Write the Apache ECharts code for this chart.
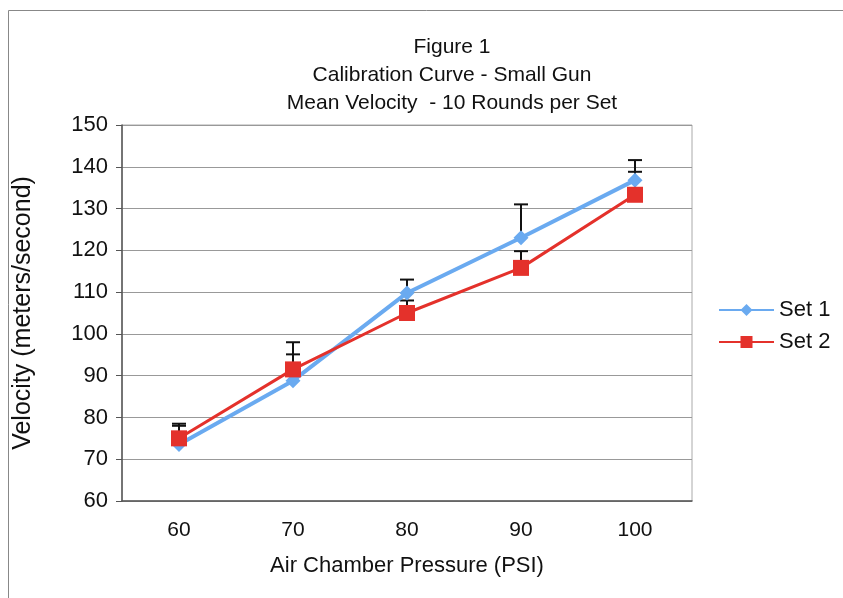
<!DOCTYPE html>
<html lang="en">
<head>
    <meta charset="UTF-8">
    <title>Figure 1</title>
    <style>
        html, body { margin: 0; padding: 0; background: #fff; }
        #main { width: 843px; height: 598px; }
    </style>
</head>
<body>
<div id="main"></div>
<script src="https://cdn.jsdelivr.net/npm/echarts@6/dist/echarts.min.js"></script>
<script>
    var pressures = ['60', '70', '80', '90', '100'];
    var set1 = [73.5, 88.8, 109.8, 123, 136.8];
    var set2 = [75, 91.5, 105, 115.8, 133.3];
    // upward error bar lengths
    var set1Err = [4.5, 6.3, 3.2, 8, 4.8];
    var set2Err = [3.5, 6.5, 3, 4, 5.5];

    var font = '"Liberation Sans", Arial, sans-serif';

    var errorSeries = function (name, values, errs) {
        return {
            type: 'custom',
            name: name + ' err',
            z: 1,
            silent: true,
            renderItem: function (params, api) {
                var idx = api.value(0);
                var base = api.coord([idx, api.value(1)]);
                var top = api.coord([idx, api.value(2)]);
                var style = {stroke: '#111', lineWidth: 2};
                return {
                    type: 'group',
                    children: [
                        {type: 'line', shape: {x1: base[0], y1: base[1], x2: top[0], y2: top[1]}, style: style},
                        {type: 'line', shape: {x1: top[0] - 7, y1: top[1], x2: top[0] + 7, y2: top[1]}, style: style}
                    ]
                };
            },
            encode: {x: 0, y: [1, 2]},
            data: values.map(function (v, i) {
                return [i, v, v + errs[i]];
            })
        };
    };

    var myChart = echarts.init(document.getElementById('main'));
    myChart.setOption({
        backgroundColor: '#fff',
        animation: false,
        title: {
            text: 'Figure 1\nCalibration Curve - Small Gun\nMean Velocity  - 10 Rounds per Set',
            left: 447,
            textAlign: 'center',
            top: 28,
            textStyle: {fontFamily: font, fontSize: 21, fontWeight: 'normal', color: '#111', lineHeight: 28}
        },
        graphic: [{
            type: 'rect',
            shape: {x: 8.5, y: 10.5, width: 900, height: 700},
            style: {fill: 'none', stroke: '#888', lineWidth: 1}
        }],
        legend: {
            orient: 'vertical',
            left: 713,
            top: 294,
            itemWidth: 55,
            itemHeight: 15,
            itemGap: 10,
            data: ['Set 1', 'Set 2'],
            textStyle: {fontFamily: font, fontSize: 22, color: '#111'}
        },
        grid: {
            left: 122,
            right: 151,
            top: 125,
            bottom: 97,
            show: true,
            borderColor: '#aaa',
            borderWidth: 1
        },
        xAxis: {
            type: 'category',
            data: pressures,
            name: 'Air Chamber Pressure (PSI)',
            nameLocation: 'middle',
            nameGap: 54,
            nameTextStyle: {fontFamily: font, fontSize: 22, color: '#111'},
            axisLine: {lineStyle: {color: '#555', width: 1.5}},
            axisTick: {length: 6, lineStyle: {color: '#555'}},
            axisLabel: {fontFamily: font, fontSize: 21, color: '#111', margin: 19}
        },
        yAxis: {
            type: 'value',
            min: 60,
            max: 150,
            interval: 10,
            name: 'Velocity (meters/second)',
            nameLocation: 'middle',
            nameGap: 86,
            nameTextStyle: {fontFamily: font, fontSize: 25, color: '#111'},
            axisLine: {show: true, lineStyle: {color: '#555', width: 1.5}},
            axisTick: {show: true, length: 6, lineStyle: {color: '#555'}},
            axisLabel: {fontFamily: font, fontSize: 22, color: '#111', margin: 14},
            splitLine: {lineStyle: {color: '#999', width: 1}}
        },
        series: [
            errorSeries('Set 1', set1, set1Err),
            errorSeries('Set 2', set2, set2Err),
            {
                name: 'Set 1',
                type: 'line',
                z: 3,
                data: set1,
                symbol: 'diamond',
                symbolSize: 15,
                lineStyle: {color: '#6aaaf0', width: 4},
                itemStyle: {color: '#6aaaf0'}
            },
            {
                name: 'Set 2',
                type: 'line',
                z: 4,
                data: set2,
                symbol: 'rect',
                symbolSize: 16,
                lineStyle: {color: '#e4312b', width: 3},
                itemStyle: {color: '#e4312b'}
            }
        ]
    });
</script>
</body>
</html>
